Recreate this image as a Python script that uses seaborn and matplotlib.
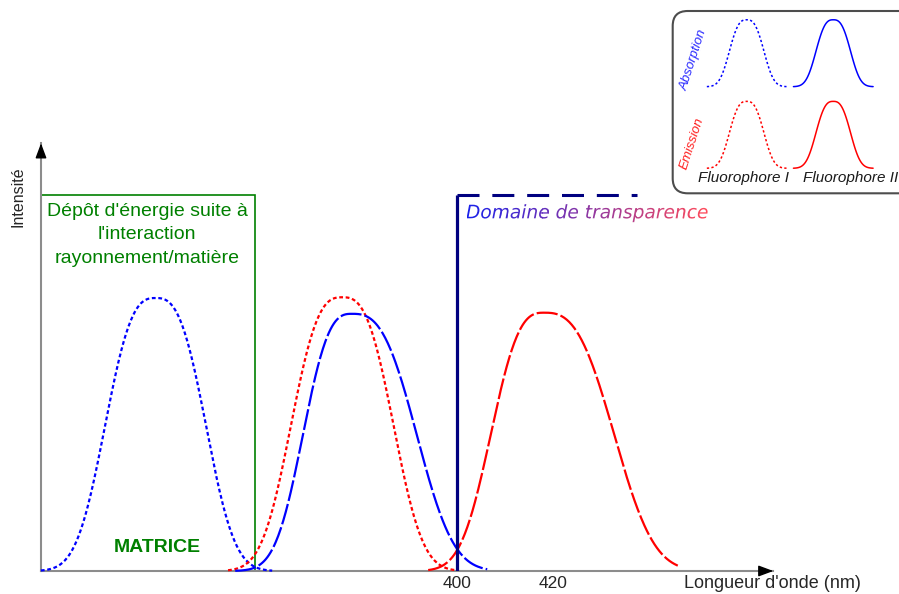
import numpy as np
import pandas as pd
import matplotlib
matplotlib.use("Agg")
import matplotlib.pyplot as plt
import seaborn as sns
from matplotlib.patches import Rectangle, FancyBboxPatch, PathPatch
from matplotlib.collections import PatchCollection
from matplotlib.textpath import TextPath
from matplotlib.font_manager import FontProperties
from matplotlib.transforms import Affine2D, IdentityTransform

# values (wavelength in nm, intensity: top of the boxes = 1)
curve_names = ["Absorption I", "Emission I", "Absorption II", "Emission II"]
curve_colors = ["blue", "red", "blue", "red"]
curve_kinds = ["dotted", "dotted", "dashed", "dashed"]
peak_nm = [337.2, 376.1, 378.1, 418.1]
peak_height = [0.726, 0.728, 0.684, 0.687]
width_left_nm = [12.4, 12.6, 12.0, 13.0]
width_right_nm = [12.4, 12.6, 15.9, 17.2]
start_nm = [313.3, 352.3, 353.8, 394.0]
end_nm = [361.5, 399.6, 406.3, 446.0]

tick_values = [400, 420]
matrix_edge_nm = 357.9
transparency_edge_nm = 400.0
transparency_dash_end_nm = 437.5
box_top = 1.0

legend_rows = ["Absorption", "Emission"]
legend_row_colors = ["blue", "red"]
legend_cols = ["Fluorophore I", "Fluorophore II"]
legend_col_kinds = ["dotted", "solid"]
legend_peak = 0.82

W, H = 899, 594
GREEN = "#008000"
AXIS_GRAY = "#8c8c8c"
LINESTYLES = {"dotted": (0, (1.7, 1.2)), "dashed": (0, (9.5, 1.4)), "solid": "-"}


def bump(x, center, height, a_left, a_right, p=2.8):
    # flat topped peak profile matching the drawn shapes
    a = np.where(x < center, a_left, a_right)
    return height * np.exp(-np.abs((x - center) / a) ** p)


def px(x, y):
    return x / W, 1 - y / H


def main():
    sns.set_style("white")
    plt.rcParams["font.family"] = ["Liberation Sans", "DejaVu Sans"]

    fig = plt.figure(figsize=(W / 100, H / 100), dpi=100)

    # main axes: origin at (41, 571) px, arrow tips at x=773 and y=143 px
    ax = fig.add_axes([41 / W, 23 / H, (773.3 - 41) / W, (571 - 143.3) / H])
    ax.set_facecolor("none")
    ax.set_xlim(313.333, 465.9)
    ax.set_ylim(0, 1.1375)
    ax.set_xticks([])
    ax.set_yticks([])
    for side in ["top", "right"]:
        ax.spines[side].set_visible(False)
    for side in ["left", "bottom"]:
        ax.spines[side].set_color(AXIS_GRAY)
        ax.spines[side].set_linewidth(1.5)
        ax.spines[side].set_zorder(1)

    head = dict(arrowstyle="-|>,head_length=0.75,head_width=0.28", color="black",
                lw=1, shrinkA=0, shrinkB=0, mutation_scale=12)
    ax.annotate("", xy=(465.9, 0), xytext=(464.0, 0), arrowprops=head, annotation_clip=False)
    ax.annotate("", xy=(313.333, 1.1375), xytext=(313.333, 1.12), arrowprops=head,
                annotation_clip=False)

    # matrix box (green) and transparency limit (navy)
    ax.add_patch(Rectangle((313.333, 0), matrix_edge_nm - 313.333, box_top, fill=False,
                           ec=GREEN, lw=1.2, zorder=0.5, clip_on=False))
    ax.plot([transparency_edge_nm, transparency_edge_nm], [0, box_top], color="navy",
            lw=2.3, zorder=3, solid_capstyle="butt")
    ax.plot([transparency_edge_nm, transparency_dash_end_nm], [box_top, box_top],
            color="navy", lw=2.2, ls=(0, (7.2, 4.2)), zorder=3)

    # spectra
    rows = []
    for i, name in enumerate(curve_names):
        x = np.linspace(start_nm[i], end_nm[i], 300)
        y = bump(x, peak_nm[i], peak_height[i], width_left_nm[i], width_right_nm[i])
        rows.append(pd.DataFrame({"nm": x, "intensity": y, "curve": name}))
    df = pd.concat(rows, ignore_index=True)

    for i, name in enumerate(curve_names):
        sub = df[df["curve"] == name]
        sns.lineplot(data=sub, x="nm", y="intensity", color=curve_colors[i], lw=1.6,
                     linestyle=LINESTYLES[curve_kinds[i]], sort=False, estimator=None,
                     ax=ax, clip_on=False, zorder=2)
    ax.set_xlabel("")
    ax.set_ylabel("")

    # axis texts
    for v in tick_values:
        ax.text(v, -0.034, str(v), ha="center", va="center", fontsize=12.5, clip_on=False)
    fig.text(*px(772.5, 583), "Longueur d'onde (nm)", ha="center", va="center", fontsize=13)
    fig.text(*px(18, 197), "Intensité", rotation=90, ha="center", va="center", fontsize=11.5)

    # matrix texts
    for line, yy in zip(["Dépôt d'énergie suite à", "l'interaction", "rayonnement/matière"],
                        [211.7, 235, 258.3]):
        fig.text(*px(147, yy), line, ha="center", va="center", fontsize=14, color=GREEN)
    fig.text(*px(157.5, 547), "MATRICE", ha="center", va="center", fontsize=14,
             fontweight="bold", color=GREEN)

    # gradient title "Domaine de transparence"
    fig.canvas.draw()
    fp = FontProperties(family="DejaVu Sans", style="oblique", size=13.4)
    tp = TextPath((0, 0), "Domaine de transparence", prop=fp)
    bb = tp.get_extents()
    s = fig.dpi / 72
    x0, y0 = 466.0, H - 218.3
    tr = Affine2D().scale(s).translate(x0, y0)
    clip = PathPatch(tp, transform=tr)
    n = 200
    left, right = x0 + bb.x0 * s, x0 + bb.x1 * s
    bottom, top = y0 + bb.y0 * s - 2, y0 + bb.y1 * s + 2
    step = (right - left) / n
    c0 = np.array([0.10, 0.13, 0.92])
    c1 = np.array([1.00, 0.30, 0.36])
    rects = [Rectangle((left + k * step, bottom), step * 1.05, top - bottom) for k in range(n)]
    cols = [tuple(c0 + (c1 - c0) * k / (n - 1)) for k in range(n)]
    pc = PatchCollection(rects, facecolors=cols, edgecolors="none",
                         transform=IdentityTransform())
    fig.add_artist(pc)
    pc.set_clip_path(clip)

    # legend box
    box = FancyBboxPatch((672.7, H - 193.3), 260, 182.3,
                         boxstyle="round,pad=0,rounding_size=15",
                         transform=IdentityTransform(), fc="white", ec="#4d4d4d",
                         lw=1.5, zorder=0.5)
    fig.add_artist(box)

    axl = fig.add_axes([700 / W, (H - 180) / H, 199 / W, 170 / H])
    axl.set_zorder(2)
    axl.set_xlim(-0.539, 1.759)
    axl.set_ylim(-0.1434, 1.940)
    axl.axis("off")
    for r, row in enumerate(legend_rows):
        base = 1 - r
        for c, col in enumerate(legend_cols):
            x = np.linspace(c - 0.46, c + 0.46, 120)
            y = base + bump(x, c, legend_peak, 0.235, 0.235)
            sns.lineplot(x=x, y=y, color=legend_row_colors[r], lw=1.1,
                         linestyle=(0, (1.5, 1.5)) if legend_col_kinds[c] == "dotted" else "-",
                         sort=False, estimator=None, ax=axl)
    fig.text(*px(694, 60), "Absorption", rotation=72, ha="center", va="center",
             fontsize=9.5, style="italic", color="#2a2aff", zorder=3)
    fig.text(*px(692.5, 143.5), "Emission", rotation=72, ha="center", va="center",
             fontsize=9.5, style="italic", color="#ff2020", zorder=3)
    fig.text(*px(698.3, 177.7), "Fluorophore I", ha="left", va="center", fontsize=11,
             style="italic", color="#1a1a1a", zorder=3)
    fig.text(*px(803.3, 177.7), "Fluorophore II", ha="left", va="center", fontsize=11,
             style="italic", color="#1a1a1a", zorder=3)

    fig.savefig("out.png", dpi=100)
    plt.close(fig)


if __name__ == "__main__":
    main()
